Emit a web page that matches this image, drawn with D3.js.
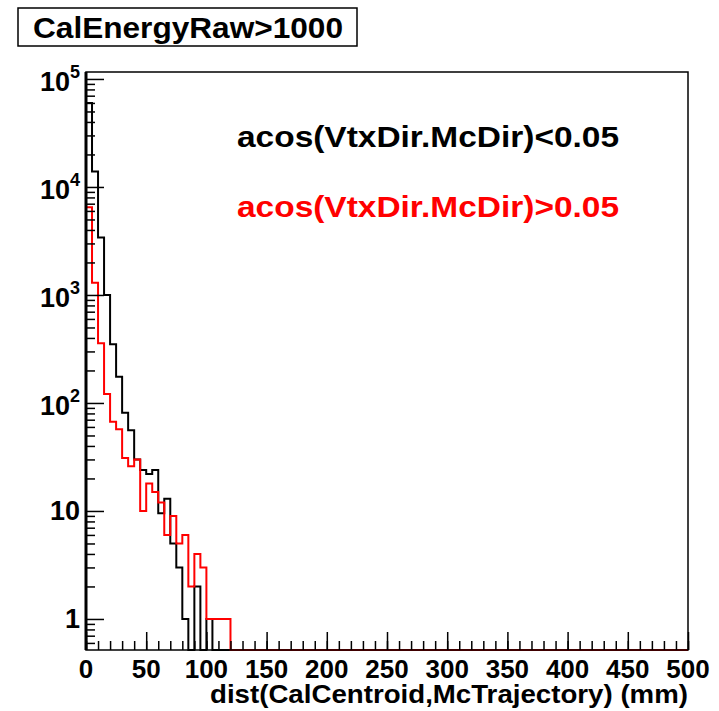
<!DOCTYPE html>
<html>
<head>
<meta charset="utf-8">
<script src="https://cdn.jsdelivr.net/npm/d3@7"></script>
<style>
  body { margin: 0; background: #fff; }
  svg { display: block; font-family: "Liberation Sans", Arial, Helvetica, sans-serif; font-weight: bold; }
</style>
</head>
<body>
<div id="vis-div"></div>
<script>
// histogram: 5 mm bins starting at 0, bins not listed are empty
var binWidth = 5;
var xMax = 500;
var tightCounts = [60000, 13900, 3400, 1000, 350, 175, 81, 56, 30, 24, 22, 24, 9.5, 13, 5, 3, 1, 0, 2, 0, 1];
var looseCounts = [6500, 1300, 357, 121, 67, 57, 31, 26, 30, 10, 18, 15, 12, 6, 9, 5, 6, 2, 4, 3, 1, 1, 1, 1];

var xTicks = [0, 50, 100, 150, 200, 250, 300, 350, 400, 450, 500];
var yTicks = [1, 10, 100, 1000, 10000, 100000];
var yTickBase = ["1", "10", "10", "10", "10", "10"];
var yTickExp = ["", "", "2", "3", "4", "5"];

var titleText = "CalEnergyRaw>1000";
var xTitle = "dist(CalCentroid,McTrajectory) (mm)";
var legendTexts = ["acos(VtxDir.McDir)<0.05", "acos(VtxDir.McDir)>0.05"];
var colors = ["#000000", "#ff0000"];

var width = 719;
var height = 711;
var m = { left: 86, right: 688, top: 72, bottom: 650 };

const svg = d3.select("#vis-div").append("svg").attr("width", width).attr("height", height);
svg.append("rect").attr("width", width).attr("height", height).attr("fill", "#fff");

var x = d3.scaleLinear().domain([0, xMax]).range([m.left, m.right]);
var y = d3.scaleLog().domain([0.516, 116000]).range([m.bottom, m.top]);

// step path of a histogram, empty bins sit on the bottom of the frame
function histPoints(counts) {
    var nBins = xMax / binWidth;
    var pts = [[0, y.domain()[0]]];
    for (var i = 0; i < nBins; i++) {
        var v = i < counts.length && counts[i] > 0 ? counts[i] : y.domain()[0];
        pts.push([i * binWidth, v]);
        pts.push([(i + 1) * binWidth, v]);
    }
    pts.push([xMax, y.domain()[0]]);
    return pts;
}
var line = d3.line().x(d => x(d[0])).y(d => y(d[1]));

[tightCounts, looseCounts].forEach(function (counts, k) {
    svg.append("path")
        .attr("d", line(histPoints(counts)))
        .attr("fill", "none")
        .attr("stroke", colors[k])
        .attr("stroke-width", 2);
});

// frame
svg.append("rect")
    .attr("x", m.left).attr("y", m.top)
    .attr("width", m.right - m.left).attr("height", m.bottom - m.top)
    .attr("fill", "none").attr("stroke", "#000").attr("stroke-width", 1.5);
svg.append("line").attr("x1", m.left).attr("x2", m.left).attr("y1", m.top).attr("y2", m.bottom)
    .attr("stroke", "#000").attr("stroke-width", 3);

// x axis
var xAxis = g => g
    .attr("transform", `translate(0,${m.bottom})`)
    .call(d3.axisTop(x).ticks(50).tickSize(9).tickFormat(""))
    .call(g => g.select(".domain").remove())
    .call(g => g.selectAll("line").attr("stroke", "#000").attr("stroke-width", 1.5));
svg.append("g").call(xAxis);
svg.append("g")
    .attr("transform", `translate(0,${m.bottom})`)
    .call(d3.axisTop(x).tickValues(xTicks).tickSize(18).tickFormat(""))
    .call(g => g.select(".domain").remove())
    .call(g => g.selectAll("line").attr("stroke", "#000").attr("stroke-width", 1.5));
svg.append("g").selectAll("text").data(xTicks).enter().append("text")
    .attr("x", d => x(d))
    .attr("y", 678)
    .attr("text-anchor", "middle")
    .attr("font-size", 26)
    .text(d => d);

// y axis
var yMinor = [];
[0.1, 1, 10, 100, 1000, 10000].forEach(function (dec) {
    for (var k = 2; k <= 9; k++) {
        var v = k * dec;
        if (v >= y.domain()[0] && v <= y.domain()[1]) yMinor.push(v);
    }
});
svg.append("g")
    .attr("transform", `translate(${m.left},0)`)
    .call(d3.axisRight(y).tickValues(yMinor).tickSize(9).tickFormat(""))
    .call(g => g.select(".domain").remove())
    .call(g => g.selectAll("line").attr("stroke", "#000").attr("stroke-width", 1.5));
svg.append("g")
    .attr("transform", `translate(${m.left},0)`)
    .call(d3.axisRight(y).tickValues(yTicks).tickSize(18).tickFormat(""))
    .call(g => g.select(".domain").remove())
    .call(g => g.selectAll("line").attr("stroke", "#000").attr("stroke-width", 1.5));

var yLab = svg.append("g").selectAll("text").data(yTicks).enter().append("text")
    .attr("x", 80)
    .attr("y", (d, i) => y(d) + (yTickExp[i] ? 12 : 9))
    .attr("text-anchor", "end")
    .attr("font-size", 27);
yLab.append("tspan").text((d, i) => yTickBase[i]);
yLab.append("tspan")
    .attr("font-size", 18)
    .attr("dy", -13)
    .text((d, i) => yTickExp[i]);

// axis title
svg.append("text")
    .attr("x", m.right).attr("y", 703)
    .attr("text-anchor", "end")
    .attr("font-size", 26)
    .attr("textLength", 478).attr("lengthAdjust", "spacingAndGlyphs")
    .text(xTitle);

// title box
svg.append("rect")
    .attr("x", 18).attr("y", 8).attr("width", 339).attr("height", 38)
    .attr("fill", "#fff").attr("stroke", "#000").attr("stroke-width", 1.5);
svg.append("text")
    .attr("x", 33).attr("y", 38)
    .attr("font-size", 29)
    .attr("textLength", 310).attr("lengthAdjust", "spacingAndGlyphs")
    .text(titleText);

// legend texts
[147, 217].forEach(function (by, k) {
    svg.append("text")
        .attr("x", 237).attr("y", by)
        .attr("font-size", 30)
        .attr("fill", colors[k])
        .attr("textLength", 382).attr("lengthAdjust", "spacingAndGlyphs")
        .text(legendTexts[k]);
});
</script>
</body>
</html>
